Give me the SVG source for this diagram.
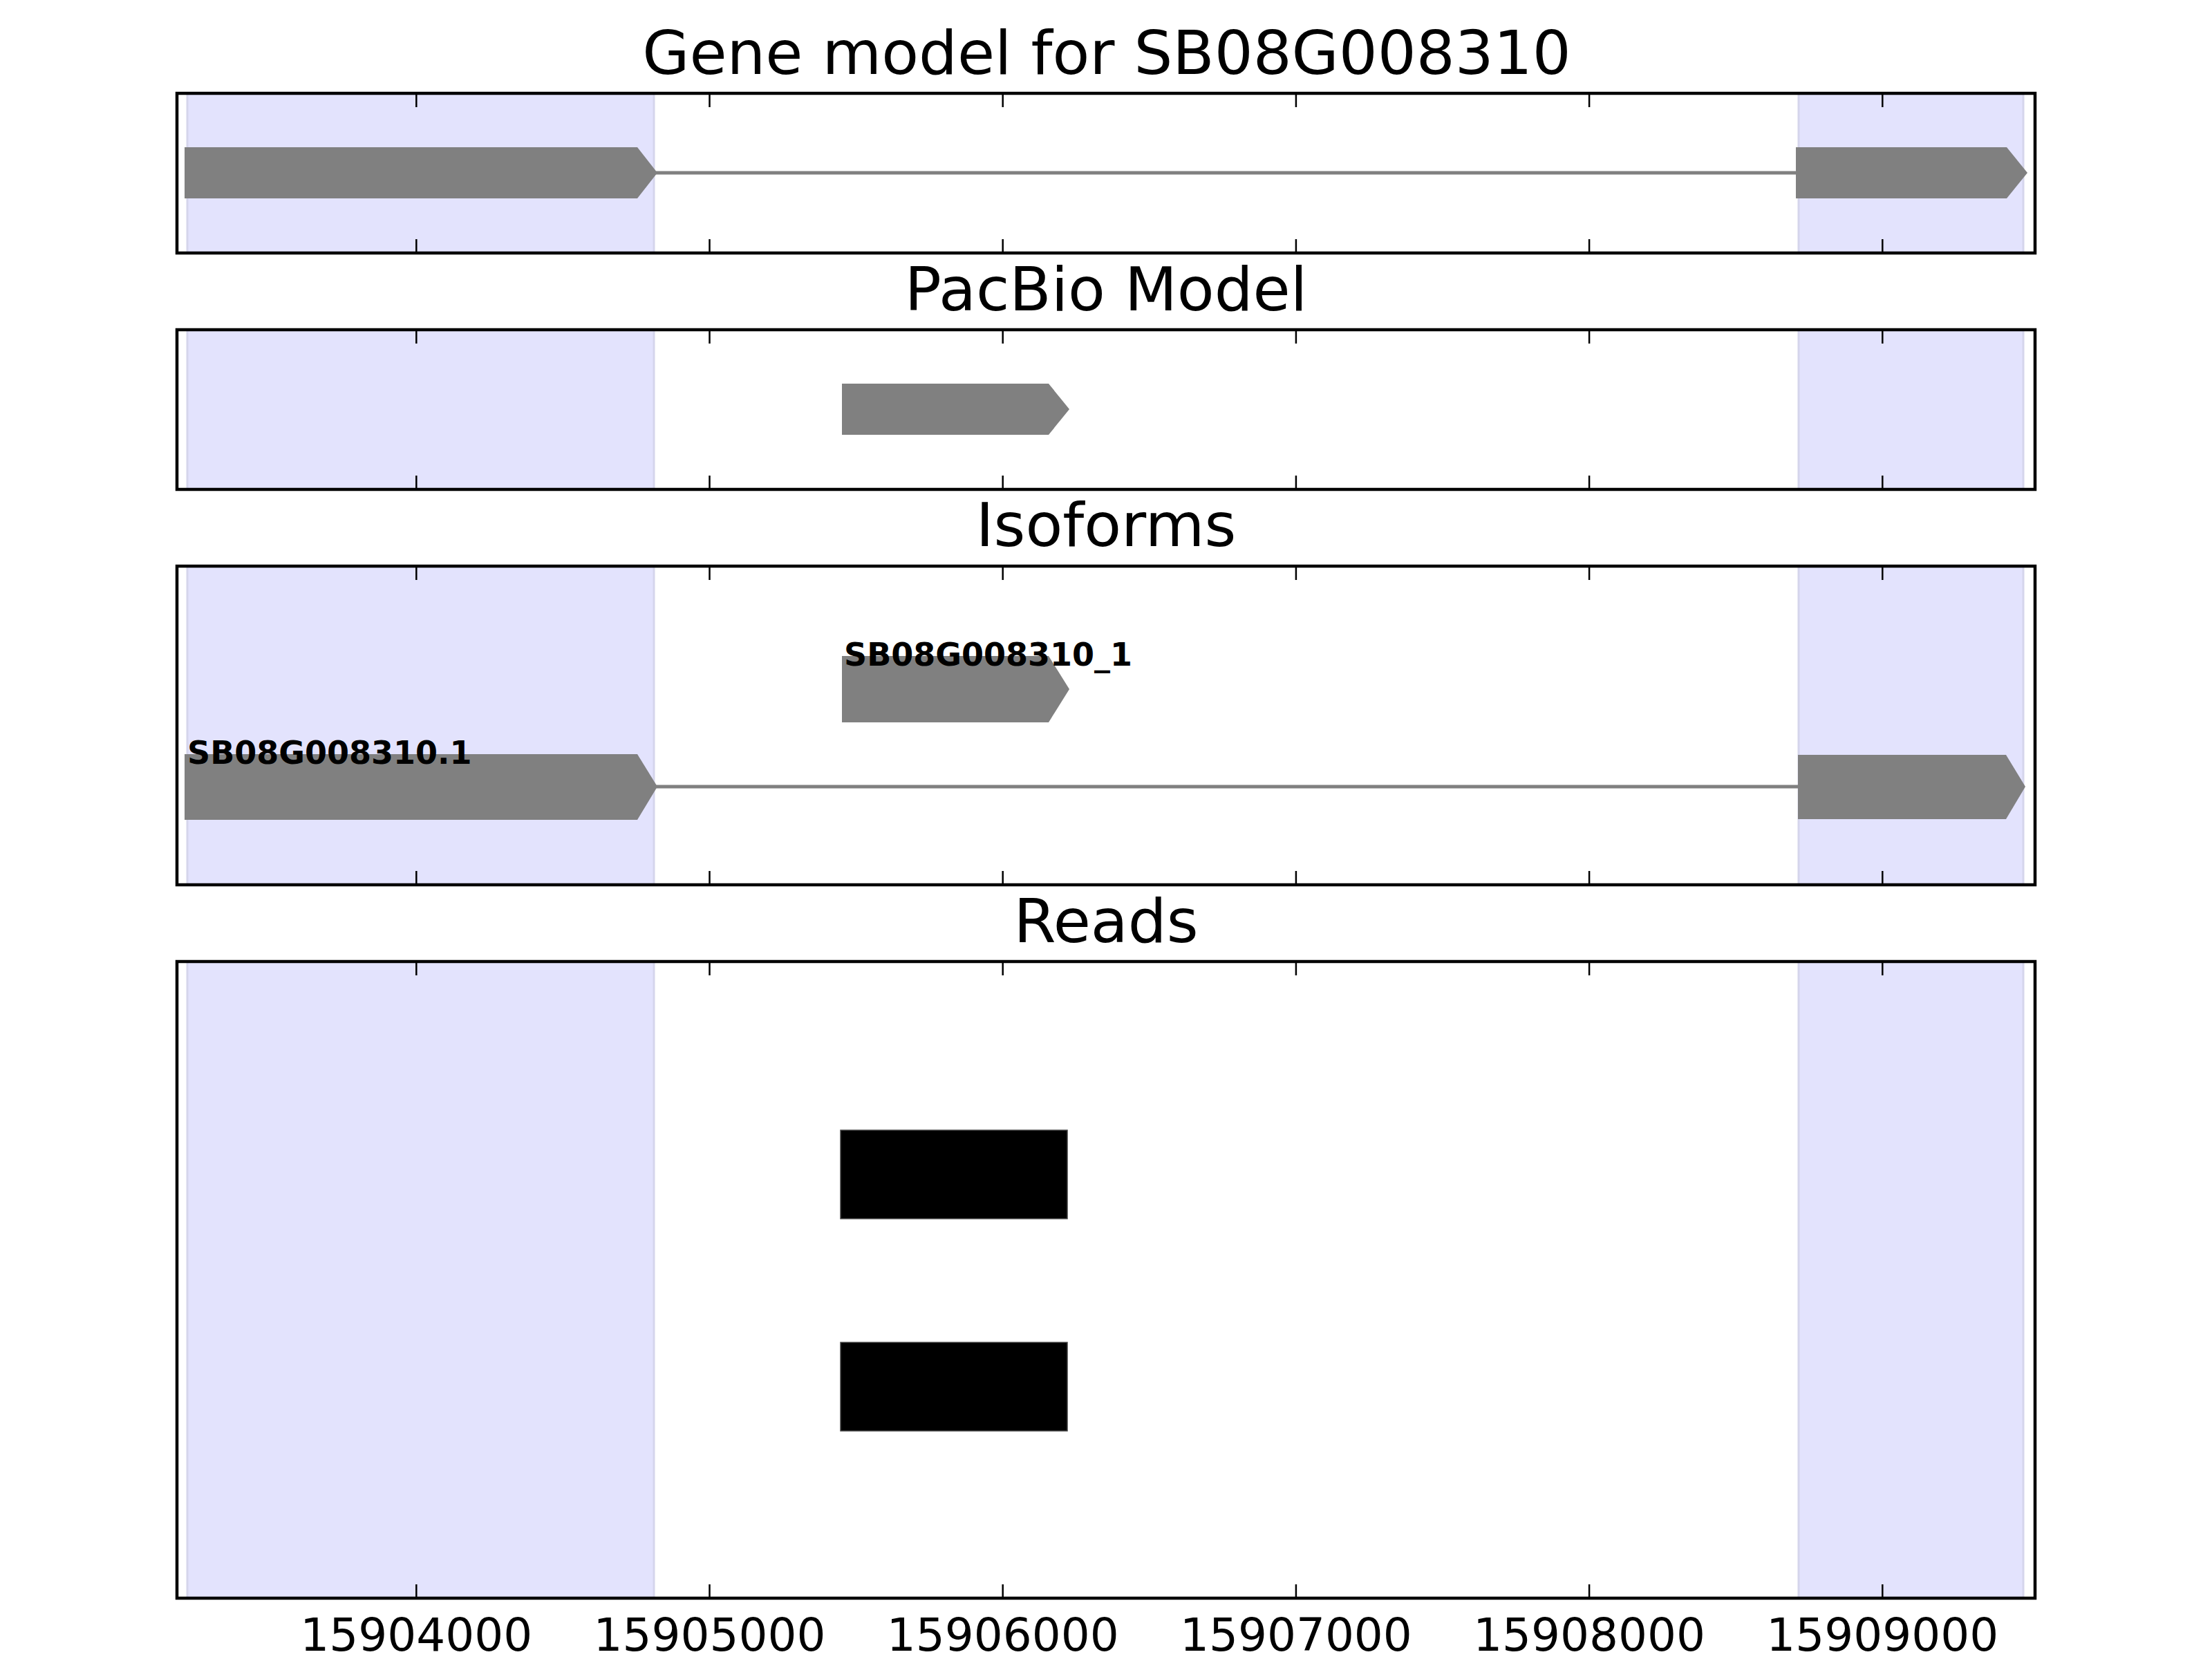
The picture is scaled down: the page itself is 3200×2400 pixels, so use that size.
<svg xmlns="http://www.w3.org/2000/svg" width="3200" height="2400" viewBox="0 0 3200 2400">
<defs>
<style>
.title{font-family:"DejaVu Sans","Liberation Sans",sans-serif;font-size:88px;fill:#000;text-anchor:middle}
.tick{font-family:"DejaVu Sans","Liberation Sans",sans-serif;font-size:66px;fill:#000;text-anchor:middle}
.lbl{font-family:"DejaVu Sans","Liberation Sans",sans-serif;font-size:46px;font-weight:bold;fill:#000}
.shade{fill:#e3e3fd;stroke:#d5d5ec;stroke-width:3}
.frame{fill:none;stroke:#000;stroke-width:4.5}
.exon{fill:#808080;stroke:none}
.intron{stroke:#808080;stroke-width:5;fill:none}
.read{fill:#000;stroke:#404040;stroke-width:1.5}
.tk{stroke:#000;stroke-width:2.5}
</style>
</defs>
<rect x="0" y="0" width="3200" height="2400" fill="#fff"/>

<!-- Panel 1 -->
<g id="panel-gene-model">
<text class="title" x="1601" y="107">Gene model for SB08G008310</text>
<rect class="shade" x="271" y="135" width="675" height="231"/>
<rect class="shade" x="2602" y="135" width="325" height="231"/>
</g>
<!-- Panel 2 -->
<g id="panel-pacbio">
<text class="title" x="1600" y="449">PacBio Model</text>
<rect class="shade" x="271" y="477" width="675" height="231"/>
<rect class="shade" x="2602" y="477" width="325" height="231"/>
</g>
<!-- Panel 3 -->
<g id="panel-isoforms">
<text class="title" x="1600" y="790">Isoforms</text>
<rect class="shade" x="271" y="819" width="675" height="461"/>
<rect class="shade" x="2602" y="819" width="325" height="461"/>
</g>
<!-- Panel 4 -->
<g id="panel-reads">
<text class="title" x="1600" y="1363">Reads</text>
<rect class="shade" x="271" y="1391" width="675" height="921"/>
<rect class="shade" x="2602" y="1391" width="325" height="921"/>
</g>

<g id="connectors">
<line class="intron" x1="948" y1="250" x2="2600" y2="250"/>
<line class="intron" x1="948" y1="1138" x2="2603" y2="1138"/>
</g>

<g id="gene-exon1"><polygon class="exon" points="267,213 922,213 951,250 922,287 267,287"/></g>
<g id="gene-exon2"><polygon class="exon" points="2598,213 2903,213 2933,250 2903,287 2598,287"/></g>
<g id="pacbio-exon"><polygon class="exon" points="1218,555 1517,555 1547,592 1517,629 1218,629"/></g>
<g id="iso1">
<polygon class="exon" points="1218,949 1517,949 1547,997 1517,1045 1218,1045"/>
<text class="lbl" x="1221" y="963">SB08G008310_1</text>
</g>
<g id="iso2">
<polygon class="exon" points="267,1091 922,1091 951,1138 922,1186 267,1186"/>
<polygon class="exon" points="2601,1092 2902,1092 2930,1138 2902,1185 2601,1185"/>
<text class="lbl" x="271" y="1105">SB08G008310.1</text>
</g>
<g id="read1"><rect class="read" x="1216" y="1635" width="328" height="128"/></g>
<g id="read2"><rect class="read" x="1216" y="1942" width="328" height="128"/></g>

<g id="frames">
<rect class="frame" x="256" y="135" width="2688" height="231"/>
<rect class="frame" x="256" y="477" width="2688" height="231"/>
<rect class="frame" x="256" y="819" width="2688" height="461"/>
<rect class="frame" x="256" y="1391" width="2688" height="921"/>
</g>

<g id="ticks">
<path class="tk" d="M602.3,135v20M1026.5,135v20M1450.7,135v20M1874.9,135v20M2299.1,135v20M2723.3,135v20M602.3,366v-20M1026.5,366v-20M1450.7,366v-20M1874.9,366v-20M2299.1,366v-20M2723.3,366v-20"/>
<path class="tk" d="M602.3,477v20M1026.5,477v20M1450.7,477v20M1874.9,477v20M2299.1,477v20M2723.3,477v20M602.3,708v-20M1026.5,708v-20M1450.7,708v-20M1874.9,708v-20M2299.1,708v-20M2723.3,708v-20"/>
<path class="tk" d="M602.3,819v20M1026.5,819v20M1450.7,819v20M1874.9,819v20M2299.1,819v20M2723.3,819v20M602.3,1280v-20M1026.5,1280v-20M1450.7,1280v-20M1874.9,1280v-20M2299.1,1280v-20M2723.3,1280v-20"/>
<path class="tk" d="M602.3,1391v20M1026.5,1391v20M1450.7,1391v20M1874.9,1391v20M2299.1,1391v20M2723.3,1391v20M602.3,2312v-20M1026.5,2312v-20M1450.7,2312v-20M1874.9,2312v-20M2299.1,2312v-20M2723.3,2312v-20"/>
</g>

<g id="tick-labels">
<text class="tick" x="602.3" y="2388">15904000</text>
<text class="tick" x="1026.5" y="2388">15905000</text>
<text class="tick" x="1450.7" y="2388">15906000</text>
<text class="tick" x="1874.9" y="2388">15907000</text>
<text class="tick" x="2299.1" y="2388">15908000</text>
<text class="tick" x="2723.3" y="2388">15909000</text>
</g>
</svg>
